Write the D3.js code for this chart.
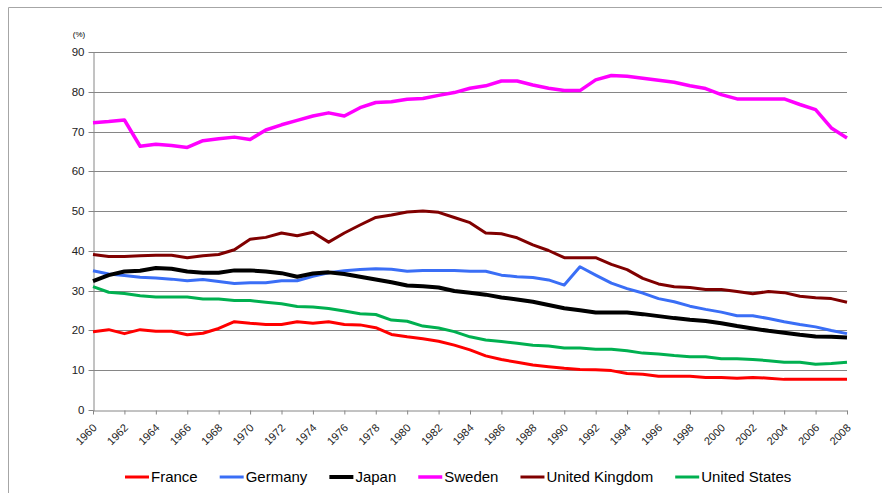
<!DOCTYPE html>
<html>
<head>
<meta charset="utf-8">
<script src="https://cdn.jsdelivr.net/npm/d3@7"></script>
<style>
  body { margin: 0; background: #fff; }
  svg { display: block; font-family: "Liberation Sans", Arial, sans-serif; }
</style>
</head>
<body>
<div id="chart"></div>
<script>
"use strict";

// Years on the category axis
const years = d3.range(1960, 2009);

// Series values (%), 1960..2008
const france = [19.7, 20.2, 19.2, 20.2, 19.8, 19.8, 18.9, 19.3, 20.5, 22.2,
    21.8, 21.5, 21.5, 22.2, 21.8, 22.2, 21.5, 21.4, 20.7, 19.0,
    18.4, 17.9, 17.3, 16.3, 15.1, 13.6, 12.7, 12.0, 11.3, 10.9,
    10.5, 10.2, 10.1, 9.9, 9.2, 9.0, 8.5, 8.5, 8.5, 8.2,
    8.2, 8.0, 8.2, 8.0, 7.7, 7.7, 7.7, 7.7, 7.7];
const germany = [35.0, 34.2, 33.8, 33.4, 33.2, 32.9, 32.5, 32.8, 32.3, 31.8,
    32.0, 32.0, 32.5, 32.5, 33.6, 34.5, 35.0, 35.3, 35.5, 35.4,
    34.9, 35.1, 35.1, 35.1, 34.9, 34.9, 33.9, 33.5, 33.3, 32.7,
    31.4, 36.0, 33.9, 31.9, 30.5, 29.4, 28.0, 27.2, 26.1, 25.3,
    24.6, 23.7, 23.7, 23.0, 22.2, 21.5, 20.9, 20.0, 19.2];
const japan = [32.4, 33.9, 34.8, 35.0, 35.7, 35.5, 34.8, 34.5, 34.5, 35.1,
    35.1, 34.8, 34.4, 33.5, 34.3, 34.6, 34.2, 33.5, 32.8, 32.1,
    31.3, 31.1, 30.8, 29.9, 29.5, 29.0, 28.3, 27.8, 27.2, 26.4,
    25.6, 25.1, 24.5, 24.5, 24.5, 24.1, 23.6, 23.1, 22.7, 22.4,
    21.8, 21.1, 20.5, 19.9, 19.4, 18.9, 18.5, 18.4, 18.2];
const sweden = [72.2, 72.5, 72.9, 66.3, 66.8, 66.5, 66.0, 67.7, 68.2, 68.6,
    68.0, 70.4, 71.7, 72.8, 73.9, 74.7, 73.9, 76.0, 77.3, 77.5,
    78.1, 78.3, 79.1, 79.8, 80.9, 81.5, 82.7, 82.7, 81.7, 80.9,
    80.3, 80.3, 83.0, 84.1, 83.9, 83.4, 82.9, 82.4, 81.5, 80.8,
    79.3, 78.2, 78.2, 78.2, 78.2, 76.8, 75.5, 70.9, 68.4];
const unitedKingdom = [39.1, 38.6, 38.6, 38.8, 38.9, 38.9, 38.3, 38.8, 39.1, 40.3,
    42.9, 43.4, 44.5, 43.8, 44.7, 42.2, 44.5, 46.5, 48.4, 49.0,
    49.8, 50.0, 49.7, 48.4, 47.1, 44.5, 44.3, 43.3, 41.5, 40.1,
    38.3, 38.3, 38.3, 36.6, 35.3, 33.1, 31.7, 31.0, 30.8, 30.3,
    30.3, 29.8, 29.2, 29.8, 29.5, 28.6, 28.2, 28.0, 27.1];
const unitedStates = [31.0, 29.6, 29.3, 28.7, 28.4, 28.4, 28.4, 27.9, 27.9, 27.5,
    27.5, 27.1, 26.7, 26.0, 25.9, 25.5, 24.9, 24.2, 24.0, 22.6,
    22.3, 21.1, 20.6, 19.7, 18.4, 17.6, 17.2, 16.8, 16.3, 16.1,
    15.6, 15.6, 15.3, 15.3, 14.9, 14.3, 14.1, 13.7, 13.4, 13.4,
    12.9, 12.9, 12.7, 12.4, 12.0, 12.0, 11.5, 11.7, 12.0];

const seriesNames = ["France", "Germany", "Japan", "Sweden", "United Kingdom", "United States"];
const seriesValues = [france, germany, japan, sweden, unitedKingdom, unitedStates];
const yTicks = [0, 10, 20, 30, 40, 50, 60, 70, 80, 90];
const xTickYears = years.filter(y => y % 2 === 0);

// Styles per series
const colors = ["#ff0000", "#3a6ef6", "#000000", "#ff00ff", "#800000", "#00b050"];
const widths = [3, 3, 4, 3.5, 3, 3];

const width = 892, height = 493;
const margin = { top: 52, right: 45, bottom: 83, left: 93 };

const svg = d3.select("#chart").append("svg")
    .attr("width", width)
    .attr("height", height);

// Outer frame (only top and left edges show in the reference)
svg.append("path")
    .attr("d", "M8.5," + height + "V7.5H882")
    .attr("fill", "none")
    .attr("stroke", "#a6a6a6")
    .attr("stroke-width", 1);

const x = d3.scaleLinear()
    .domain([1960, 2008])
    .range([margin.left, width - margin.right]);

const y = d3.scaleLinear()
    .domain([0, 90])
    .range([height - margin.bottom, margin.top]);

// Gridlines
svg.append("g")
    .selectAll("line")
    .data(yTicks.filter(d => d > 0))
    .join("line")
    .attr("x1", x.range()[0])
    .attr("x2", x.range()[1])
    .attr("y1", d => Math.round(y(d)) + 0.5)
    .attr("y2", d => Math.round(y(d)) + 0.5)
    .attr("stroke", "#868686")
    .attr("stroke-width", 1);

// Y axis
const yAxis = svg.append("g")
    .attr("transform", "translate(" + (x.range()[0] + 0.5) + ",0.5)")
    .call(d3.axisLeft(y).tickValues(yTicks).tickSize(5).tickPadding(4).tickSizeOuter(0));
yAxis.select(".domain").attr("stroke", "#868686");
yAxis.selectAll(".tick line").attr("stroke", "#868686");
yAxis.selectAll(".tick text")
    .style("font-size", "11.5px")
    .attr("fill", "#222");
yAxis.selectAll(".tick").attr("transform", d => "translate(0," + Math.round(y(d)) + ")");

svg.append("text")
    .attr("x", 79)
    .attr("y", 37)
    .attr("text-anchor", "middle")
    .style("font-size", "8px")
    .text("(%)");

// X axis
const xAxis = svg.append("g")
    .attr("transform", "translate(0," + (Math.round(y(0)) + 0.5) + ")")
    .call(d3.axisBottom(x).tickValues(xTickYears).tickFormat(d3.format("d")).tickSize(4).tickSizeOuter(0));
xAxis.select(".domain").attr("stroke", "#868686");
xAxis.selectAll(".tick line").attr("stroke", "#868686");
xAxis.selectAll(".tick text")
    .style("font-size", "11px")
    .attr("fill", "#222")
    .attr("text-anchor", "end")
    .attr("dy", null)
    .attr("y", 0)
    .attr("transform", "translate(4,18) rotate(-45)");

// Lines
const line = d3.line()
    .x((d, i) => x(years[i]))
    .y(d => y(d));

svg.append("g")
    .selectAll("path")
    .data(seriesValues)
    .join("path")
    .attr("d", d => line(d))
    .attr("fill", "none")
    .attr("stroke", (d, i) => colors[i])
    .attr("stroke-width", (d, i) => widths[i])
    .attr("stroke-linejoin", "round");

// Legend
const legend = svg.append("g");
const items = legend.selectAll("g")
    .data(seriesNames)
    .join("g");
items.append("line")
    .attr("x1", 0).attr("x2", 24)
    .attr("y1", 0).attr("y2", 0)
    .attr("stroke", (d, i) => colors[i])
    .attr("stroke-width", (d, i) => widths[i]);
items.append("text")
    .attr("x", 26)
    .attr("dy", "0.35em")
    .style("font-size", "15px")
    .text(d => d);

const gap = 22;
let cursor = 0;
items.each(function () {
    const w = 26 + d3.select(this).select("text").node().getComputedTextLength();
    d3.select(this).attr("transform", "translate(" + cursor + ",0)");
    cursor += w + gap;
});
const legendWidth = cursor - gap;
legend.attr("transform", "translate(" + Math.round(458 - legendWidth / 2) + ",477)");
</script>
</body>
</html>
